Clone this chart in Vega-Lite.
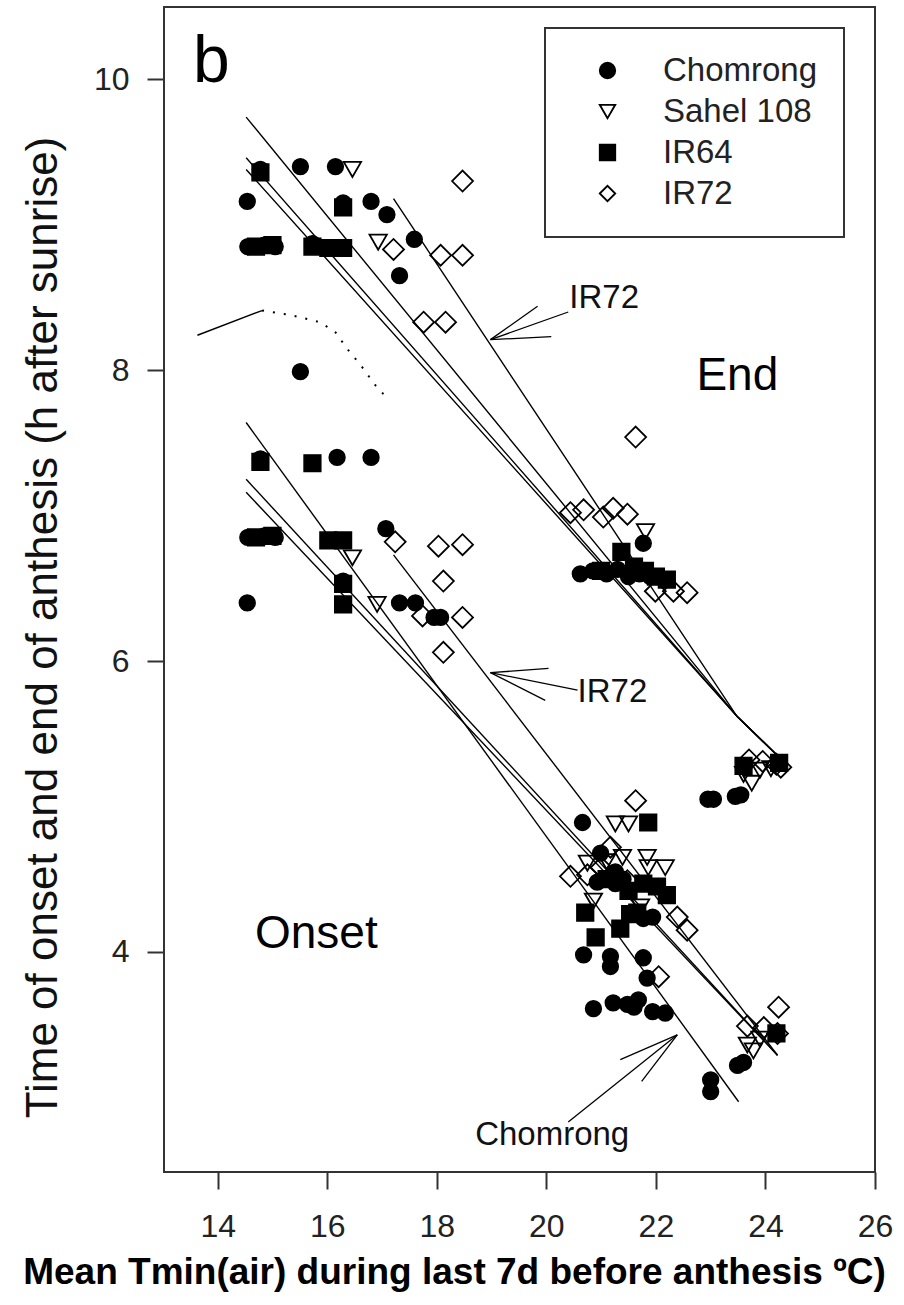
{
  "$schema": "https://vega.github.io/schema/vega-lite/v6.json",
  "width": 711,
  "height": 1165,
  "autosize": {"type": "none"},
  "padding": {"left": 164, "top": 7, "right": 29, "bottom": 133},
  "background": "white",
  "config": {
    "view": {"stroke": "#333", "strokeWidth": 2},
    "font": "Liberation Sans",
    "axis": {"grid": false, "domain": false, "tickColor": "#333", "tickWidth": 2, "tickSize": 17, "labelFont": "Liberation Sans", "labelFontSize": 32, "labelColor": "#222", "titleColor": "#111", "labelFlush": false, "labelOverlap": false},
    "legend": {"orient": "none", "legendX": 381, "legendY": 21, "padding": 26, "strokeColor": "#333", "strokeWidth": 2, "labelFont": "Liberation Sans", "labelFontSize": 33, "labelColor": "#222", "symbolSize": 240, "symbolOffset": 20, "labelOffset": 39, "rowPadding": 7, "symbolStrokeColor": "black", "symbolStrokeWidth": 1.8}
  },
  "datasets": {
    "points": [
      {"cultivar": "Chomrong", "x": 15.51, "y": 9.40}, {"cultivar": "Chomrong", "x": 16.15, "y": 9.40}, {"cultivar": "Chomrong", "x": 14.54, "y": 9.16}, {"cultivar": "Chomrong", "x": 16.80, "y": 9.16}, {"cultivar": "Chomrong", "x": 17.09, "y": 9.07}, {"cultivar": "Chomrong", "x": 17.59, "y": 8.90}, {"cultivar": "Chomrong", "x": 17.32, "y": 8.65}, {"cultivar": "Chomrong", "x": 14.55, "y": 8.85}, {"cultivar": "Chomrong", "x": 14.85, "y": 8.86}, {"cultivar": "Chomrong", "x": 15.05, "y": 8.85}, {"cultivar": "Chomrong", "x": 14.78, "y": 9.38}, {"cultivar": "Chomrong", "x": 16.29, "y": 9.15}, {"cultivar": "Chomrong", "x": 15.73, "y": 8.87}, {"cultivar": "Chomrong", "x": 15.51, "y": 7.99},
      {"cultivar": "Chomrong", "x": 20.62, "y": 6.60}, {"cultivar": "Chomrong", "x": 20.85, "y": 6.62}, {"cultivar": "Chomrong", "x": 21.10, "y": 6.60}, {"cultivar": "Chomrong", "x": 21.30, "y": 6.63}, {"cultivar": "Chomrong", "x": 21.50, "y": 6.58}, {"cultivar": "Chomrong", "x": 21.70, "y": 6.60}, {"cultivar": "Chomrong", "x": 21.90, "y": 6.58}, {"cultivar": "Chomrong", "x": 21.77, "y": 6.81},
      {"cultivar": "Chomrong", "x": 22.95, "y": 5.05}, {"cultivar": "Chomrong", "x": 23.05, "y": 5.05}, {"cultivar": "Chomrong", "x": 23.45, "y": 5.07}, {"cultivar": "Chomrong", "x": 23.55, "y": 5.08},
      {"cultivar": "Chomrong", "x": 14.78, "y": 7.39}, {"cultivar": "Chomrong", "x": 16.18, "y": 7.40}, {"cultivar": "Chomrong", "x": 16.80, "y": 7.40}, {"cultivar": "Chomrong", "x": 14.55, "y": 6.85}, {"cultivar": "Chomrong", "x": 14.85, "y": 6.86}, {"cultivar": "Chomrong", "x": 15.05, "y": 6.85}, {"cultivar": "Chomrong", "x": 16.29, "y": 6.55}, {"cultivar": "Chomrong", "x": 14.54, "y": 6.40}, {"cultivar": "Chomrong", "x": 17.07, "y": 6.91}, {"cultivar": "Chomrong", "x": 17.32, "y": 6.40}, {"cultivar": "Chomrong", "x": 17.61, "y": 6.40}, {"cultivar": "Chomrong", "x": 17.95, "y": 6.30}, {"cultivar": "Chomrong", "x": 18.07, "y": 6.30},
      {"cultivar": "Chomrong", "x": 20.66, "y": 4.89}, {"cultivar": "Chomrong", "x": 20.99, "y": 4.68}, {"cultivar": "Chomrong", "x": 20.93, "y": 4.48}, {"cultivar": "Chomrong", "x": 21.26, "y": 4.55}, {"cultivar": "Chomrong", "x": 21.26, "y": 4.47}, {"cultivar": "Chomrong", "x": 21.40, "y": 4.50}, {"cultivar": "Chomrong", "x": 21.94, "y": 4.24}, {"cultivar": "Chomrong", "x": 21.77, "y": 4.23}, {"cultivar": "Chomrong", "x": 20.68, "y": 3.98}, {"cultivar": "Chomrong", "x": 21.17, "y": 3.97}, {"cultivar": "Chomrong", "x": 21.17, "y": 3.90}, {"cultivar": "Chomrong", "x": 21.77, "y": 3.96}, {"cultivar": "Chomrong", "x": 21.84, "y": 3.82}, {"cultivar": "Chomrong", "x": 20.86, "y": 3.61}, {"cultivar": "Chomrong", "x": 21.22, "y": 3.65}, {"cultivar": "Chomrong", "x": 21.48, "y": 3.64}, {"cultivar": "Chomrong", "x": 21.68, "y": 3.67}, {"cultivar": "Chomrong", "x": 21.60, "y": 3.62}, {"cultivar": "Chomrong", "x": 21.94, "y": 3.59}, {"cultivar": "Chomrong", "x": 22.17, "y": 3.58}, {"cultivar": "Chomrong", "x": 23.49, "y": 3.22}, {"cultivar": "Chomrong", "x": 23.60, "y": 3.24}, {"cultivar": "Chomrong", "x": 23.00, "y": 3.12}, {"cultivar": "Chomrong", "x": 23.00, "y": 3.04},
      {"cultivar": "IR64", "x": 14.78, "y": 9.36}, {"cultivar": "IR64", "x": 14.70, "y": 8.85}, {"cultivar": "IR64", "x": 15.00, "y": 8.86}, {"cultivar": "IR64", "x": 16.29, "y": 9.12}, {"cultivar": "IR64", "x": 15.73, "y": 8.85}, {"cultivar": "IR64", "x": 16.02, "y": 8.84}, {"cultivar": "IR64", "x": 16.29, "y": 8.84}, {"cultivar": "IR64", "x": 21.37, "y": 6.75}, {"cultivar": "IR64", "x": 21.00, "y": 6.62}, {"cultivar": "IR64", "x": 21.60, "y": 6.65}, {"cultivar": "IR64", "x": 21.80, "y": 6.62}, {"cultivar": "IR64", "x": 22.00, "y": 6.58}, {"cultivar": "IR64", "x": 22.20, "y": 6.56}, {"cultivar": "IR64", "x": 23.60, "y": 5.28}, {"cultivar": "IR64", "x": 24.25, "y": 5.30},
      {"cultivar": "IR64", "x": 14.78, "y": 7.37}, {"cultivar": "IR64", "x": 15.73, "y": 7.36}, {"cultivar": "IR64", "x": 14.70, "y": 6.85}, {"cultivar": "IR64", "x": 15.00, "y": 6.86}, {"cultivar": "IR64", "x": 16.02, "y": 6.83}, {"cultivar": "IR64", "x": 16.29, "y": 6.83}, {"cultivar": "IR64", "x": 16.29, "y": 6.53}, {"cultivar": "IR64", "x": 16.29, "y": 6.39},
      {"cultivar": "IR64", "x": 21.86, "y": 4.89}, {"cultivar": "IR64", "x": 21.77, "y": 4.47}, {"cultivar": "IR64", "x": 22.02, "y": 4.45}, {"cultivar": "IR64", "x": 22.20, "y": 4.39}, {"cultivar": "IR64", "x": 21.50, "y": 4.42}, {"cultivar": "IR64", "x": 20.71, "y": 4.27}, {"cultivar": "IR64", "x": 21.53, "y": 4.26}, {"cultivar": "IR64", "x": 21.66, "y": 4.27}, {"cultivar": "IR64", "x": 21.35, "y": 4.16}, {"cultivar": "IR64", "x": 20.90, "y": 4.10}, {"cultivar": "IR64", "x": 21.10, "y": 4.50}, {"cultivar": "IR64", "x": 24.20, "y": 3.44},
      {"cultivar": "Sahel 108", "x": 16.46, "y": 9.38}, {"cultivar": "Sahel 108", "x": 16.93, "y": 8.88}, {"cultivar": "Sahel 108", "x": 21.81, "y": 6.89}, {"cultivar": "Sahel 108", "x": 23.60, "y": 5.22}, {"cultivar": "Sahel 108", "x": 23.75, "y": 5.16}, {"cultivar": "Sahel 108", "x": 23.90, "y": 5.25}, {"cultivar": "Sahel 108", "x": 24.10, "y": 5.26},
      {"cultivar": "Sahel 108", "x": 16.46, "y": 6.71}, {"cultivar": "Sahel 108", "x": 16.91, "y": 6.39}, {"cultivar": "Sahel 108", "x": 21.26, "y": 4.88}, {"cultivar": "Sahel 108", "x": 21.50, "y": 4.88}, {"cultivar": "Sahel 108", "x": 20.75, "y": 4.61}, {"cultivar": "Sahel 108", "x": 21.39, "y": 4.65}, {"cultivar": "Sahel 108", "x": 21.84, "y": 4.65}, {"cultivar": "Sahel 108", "x": 22.17, "y": 4.58}, {"cultivar": "Sahel 108", "x": 21.86, "y": 4.58}, {"cultivar": "Sahel 108", "x": 20.86, "y": 4.35}, {"cultivar": "Sahel 108", "x": 21.72, "y": 4.31}, {"cultivar": "Sahel 108", "x": 21.10, "y": 4.62}, {"cultivar": "Sahel 108", "x": 23.67, "y": 3.36}, {"cultivar": "Sahel 108", "x": 23.78, "y": 3.32}, {"cultivar": "Sahel 108", "x": 23.90, "y": 3.40},
      {"cultivar": "IR72", "x": 18.47, "y": 9.30}, {"cultivar": "IR72", "x": 17.21, "y": 8.83}, {"cultivar": "IR72", "x": 18.07, "y": 8.79}, {"cultivar": "IR72", "x": 18.47, "y": 8.79}, {"cultivar": "IR72", "x": 17.76, "y": 8.33}, {"cultivar": "IR72", "x": 18.16, "y": 8.33}, {"cultivar": "IR72", "x": 20.44, "y": 7.02}, {"cultivar": "IR72", "x": 20.68, "y": 7.04}, {"cultivar": "IR72", "x": 21.04, "y": 6.99}, {"cultivar": "IR72", "x": 21.22, "y": 7.05}, {"cultivar": "IR72", "x": 21.48, "y": 7.01}, {"cultivar": "IR72", "x": 21.63, "y": 7.54}, {"cultivar": "IR72", "x": 21.99, "y": 6.48}, {"cultivar": "IR72", "x": 22.32, "y": 6.48}, {"cultivar": "IR72", "x": 22.57, "y": 6.47}, {"cultivar": "IR72", "x": 23.70, "y": 5.32}, {"cultivar": "IR72", "x": 23.95, "y": 5.31}, {"cultivar": "IR72", "x": 24.20, "y": 5.29}, {"cultivar": "IR72", "x": 24.28, "y": 5.27},
      {"cultivar": "IR72", "x": 17.24, "y": 6.82}, {"cultivar": "IR72", "x": 17.74, "y": 6.31}, {"cultivar": "IR72", "x": 18.03, "y": 6.79}, {"cultivar": "IR72", "x": 18.47, "y": 6.80}, {"cultivar": "IR72", "x": 18.12, "y": 6.55}, {"cultivar": "IR72", "x": 18.47, "y": 6.30}, {"cultivar": "IR72", "x": 18.12, "y": 6.06},
      {"cultivar": "IR72", "x": 21.63, "y": 5.04}, {"cultivar": "IR72", "x": 21.17, "y": 4.72}, {"cultivar": "IR72", "x": 20.44, "y": 4.52}, {"cultivar": "IR72", "x": 20.75, "y": 4.53}, {"cultivar": "IR72", "x": 21.48, "y": 4.49}, {"cultivar": "IR72", "x": 21.00, "y": 4.58}, {"cultivar": "IR72", "x": 22.05, "y": 3.83}, {"cultivar": "IR72", "x": 22.39, "y": 4.24}, {"cultivar": "IR72", "x": 22.57, "y": 4.15}, {"cultivar": "IR72", "x": 24.24, "y": 3.62}, {"cultivar": "IR72", "x": 23.67, "y": 3.49}, {"cultivar": "IR72", "x": 23.97, "y": 3.48}, {"cultivar": "IR72", "x": 24.22, "y": 3.44}
    ],
    "lines": [
      {"id": "endA", "o": 1, "x": 14.52, "y": 9.74}, {"id": "endA", "o": 2, "x": 23.48, "y": 5.62}, {"id": "endA", "o": 3, "x": 24.33, "y": 5.31},
      {"id": "endB", "o": 1, "x": 14.52, "y": 9.46}, {"id": "endB", "o": 2, "x": 23.48, "y": 5.62}, {"id": "endB", "o": 3, "x": 24.33, "y": 5.31},
      {"id": "endC", "o": 1, "x": 14.52, "y": 9.38}, {"id": "endC", "o": 2, "x": 23.48, "y": 5.62}, {"id": "endC", "o": 3, "x": 24.33, "y": 5.31},
      {"id": "endIR72", "o": 1, "x": 17.21, "y": 9.18}, {"id": "endIR72", "o": 2, "x": 23.48, "y": 5.62}, {"id": "endIR72", "o": 3, "x": 24.33, "y": 5.31},
      {"id": "onD", "o": 1, "x": 14.52, "y": 7.64}, {"id": "onD", "o": 2, "x": 23.51, "y": 2.97},
      {"id": "onE", "o": 1, "x": 14.52, "y": 7.25}, {"id": "onE", "o": 2, "x": 24.22, "y": 3.29},
      {"id": "onF", "o": 1, "x": 14.52, "y": 7.16}, {"id": "onF", "o": 2, "x": 24.22, "y": 3.29},
      {"id": "onIR72", "o": 1, "x": 17.21, "y": 6.73}, {"id": "onIR72", "o": 2, "x": 24.22, "y": 3.29},
      {"id": "seg", "o": 1, "x": 13.63, "y": 8.24}, {"id": "seg", "o": 2, "x": 14.81, "y": 8.41}
    ],
    "dotted": [
      {"o": 1, "x": 14.81, "y": 8.41}, {"o": 2, "x": 15.32, "y": 8.38}, {"o": 3, "x": 15.87, "y": 8.33}, {"o": 4, "x": 16.15, "y": 8.26}, {"o": 5, "x": 16.38, "y": 8.14}, {"o": 6, "x": 16.64, "y": 8.02}, {"o": 7, "x": 16.87, "y": 7.90}, {"o": 8, "x": 17.11, "y": 7.80}
    ],
    "arrows": [
      {"x": 18.98, "y": 8.21, "x2": 20.40, "y2": 8.40}, {"x": 18.98, "y": 8.21, "x2": 19.84, "y2": 8.44}, {"x": 18.98, "y": 8.21, "x2": 20.09, "y2": 8.23},
      {"x": 18.98, "y": 5.92, "x2": 20.57, "y2": 5.80}, {"x": 18.98, "y": 5.92, "x2": 20.04, "y2": 5.95}, {"x": 18.98, "y": 5.92, "x2": 19.98, "y2": 5.73},
      {"x": 22.39, "y": 3.43, "x2": 20.40, "y2": 2.83}, {"x": 22.39, "y": 3.43, "x2": 21.35, "y2": 3.26}, {"x": 22.39, "y": 3.43, "x2": 21.74, "y2": 3.11}
    ],
    "panel": [{"label": "b", "x": 13.55, "y": 9.98}],
    "phase": [{"label": "End", "x": 22.74, "y": 7.865}, {"label": "Onset", "x": 14.68, "y": 4.03}],
    "notes": [{"label": "IR72", "x": 20.42, "y": 8.43}, {"label": "IR72", "x": 20.57, "y": 5.72}, {"label": "Chomrong", "x": 18.70, "y": 2.676}]
  },
  "encoding": {
    "x": {"field": "x", "type": "quantitative", "scale": {"domain": [13.02, 26], "nice": false, "zero": false},
      "axis": {"values": [14, 16, 18, 20, 22, 24, 26], "title": "Mean Tmin(air) during last 7d before anthesis ºC)", "titleFont": "Liberation Sans", "titleFontWeight": "bold", "titleFontSize": 37, "titleX": 290, "titleY": 111, "titleBaseline": "alphabetic", "titleColor": "#000", "labelPadding": 22}},
    "y": {"field": "y", "type": "quantitative", "scale": {"domain": [2.487, 10.497], "nice": false, "zero": false},
      "axis": {"values": [4, 6, 8, 10], "title": "Time of onset and end of anthesis (h after sunrise)", "titleFont": "Liberation Sans", "titleFontWeight": "normal", "titleFontSize": 44, "titlePadding": 28, "titleY": 620, "labelPadding": 18}}
  },
  "layer": [
    {"data": {"name": "lines"}, "mark": {"type": "line", "color": "black", "strokeWidth": 1.4}, "encoding": {"detail": {"field": "id"}, "order": {"field": "o"}}},
    {"data": {"name": "dotted"}, "mark": {"type": "line", "color": "black", "strokeWidth": 2, "strokeDash": [2, 9]}, "encoding": {"order": {"field": "o"}}},
    {"data": {"name": "arrows"}, "mark": {"type": "rule", "color": "black", "strokeWidth": 1.3}, "encoding": {"x2": {"field": "x2"}, "y2": {"field": "y2"}}},
    {"data": {"name": "points"},
      "encoding": {
        "shape": {"field": "cultivar", "type": "nominal", "scale": {"domain": ["Chomrong", "Sahel 108", "IR64", "IR72"], "range": ["circle", "triangle-down", "square", "diamond"]}, "legend": {"title": null}},
        "fill": {"field": "cultivar", "type": "nominal", "scale": {"domain": ["Chomrong", "Sahel 108", "IR64", "IR72"], "range": ["black", "transparent", "black", "transparent"]}, "legend": {"title": null}},
        "stroke": {"field": "cultivar", "type": "nominal", "scale": {"domain": ["Chomrong", "Sahel 108", "IR64", "IR72"], "range": ["black", "black", "black", "black"]}, "legend": {"title": null}}
      },
      "layer": [
        {"transform": [{"filter": "datum.cultivar === 'Chomrong'"}], "mark": {"type": "point", "filled": true, "strokeWidth": 1.5, "opacity": 1, "size": 250}},
        {"transform": [{"filter": "datum.cultivar === 'IR64'"}], "mark": {"type": "point", "filled": true, "strokeWidth": 1.5, "opacity": 1, "size": 280}},
        {"transform": [{"filter": "datum.cultivar === 'Sahel 108'"}], "mark": {"type": "point", "filled": true, "strokeWidth": 1.8, "opacity": 1, "size": 300}},
        {"transform": [{"filter": "datum.cultivar === 'IR72'"}], "mark": {"type": "point", "filled": true, "strokeWidth": 1.8, "opacity": 1, "size": 440}}
      ]
    },
    {"data": {"name": "panel"}, "mark": {"type": "text", "align": "left", "baseline": "alphabetic", "fontSize": 66, "font": "Liberation Sans", "color": "black"}, "encoding": {"text": {"field": "label"}}},
    {"data": {"name": "phase"}, "mark": {"type": "text", "align": "left", "baseline": "alphabetic", "fontSize": 46, "font": "Liberation Sans", "color": "black"}, "encoding": {"text": {"field": "label"}}},
    {"data": {"name": "notes"}, "mark": {"type": "text", "align": "left", "baseline": "alphabetic", "fontSize": 33, "font": "Liberation Sans", "color": "#111"}, "encoding": {"text": {"field": "label"}}}
  ]
}
